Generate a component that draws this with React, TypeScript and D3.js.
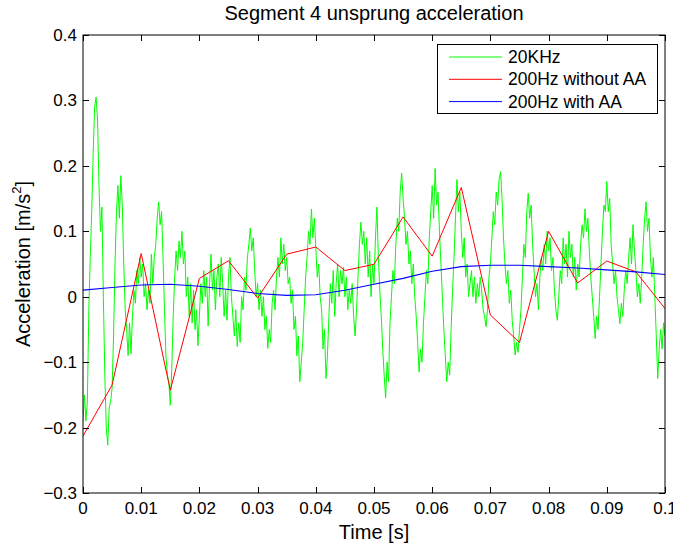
import * as d3 from "d3";
import { useEffect, useRef } from "react";

// time axis for the 200Hz signals (one sample every 5 ms)
const tSlow = [0, 0.005, 0.01, 0.015, 0.02, 0.025, 0.03, 0.035, 0.04, 0.045, 0.05,
  0.055, 0.06, 0.065, 0.07, 0.075, 0.08, 0.085, 0.09, 0.095, 0.1];

const redVals = [-0.213, -0.135, 0.066, -0.143, 0.028, 0.055, -0.002, 0.065, 0.076, 0.04, 0.0495,
  0.122, 0.062, 0.167, -0.028, -0.07, 0.1, 0.021, 0.0545, 0.038, -0.018];

const blueVals = [0.01, 0.014, 0.018, 0.019, 0.016, 0.011, 0.005, 0.002, 0.003, 0.01, 0.019,
  0.028, 0.039, 0.046, 0.048, 0.048, 0.046, 0.044, 0.041, 0.038, 0.034];

// 20KHz trace, every 0.25 ms (one row = 5 ms)
const greenStep = 0.00025;
const greenVals = [
  -0.19, -0.15, -0.19, -0.16, -0.02, 0.06, 0.13, 0.22, 0.29, 0.305, 0.27, 0.17, 0.1, 0.137, 0.0, -0.12, -0.2, -0.227, -0.17, -0.16,
  -0.14, -0.06, 0.05, 0.13, 0.17, 0.12, 0.185, 0.14, 0.05, -0.02, -0.05, -0.09, -0.04, -0.087, -0.03, 0.01, -0.01, 0.04, 0.02, 0.06,
  0.03, 0.05, 0.0, 0.02, -0.02, 0.01, -0.01, 0.065, 0.02, 0.06, 0.08, 0.12, 0.145, 0.11, 0.13, 0.06, -0.02, -0.09, -0.12, -0.13,
  -0.166, -0.11, -0.03, 0.03, 0.07, 0.04, 0.085, 0.06, 0.1, 0.05, 0.07, 0.0, 0.03, -0.03, 0.02, -0.04, 0.01, -0.05, -0.02, -0.075,
  -0.03, 0.02, -0.01, 0.04, 0.0, 0.03, -0.045, 0.02, 0.065, 0.01, 0.04, -0.02, 0.03, 0.05, 0.0, 0.06, 0.02, -0.03, 0.01, -0.036,
  0.03, 0.06, 0.0, -0.03, -0.06, -0.02, -0.076, -0.04, -0.07, 0.0, -0.02, 0.03, 0.01, 0.06, 0.08, 0.105, 0.07, 0.09, 0.04, 0.0,
  0.02, -0.02, 0.01, -0.03, 0.0, -0.05, -0.03, -0.079, -0.05, -0.07, -0.01, 0.01, -0.02, 0.03, 0.06, 0.03, 0.09, 0.05, 0.08, 0.04,
  0.06, 0.02, 0.03, -0.01, 0.01, -0.05, -0.03, -0.09, -0.06, -0.13, -0.1, -0.07, -0.02, 0.03, 0.06, 0.1, 0.08, 0.134, 0.09, 0.12,
  0.075, 0.03, 0.05, 0.0, -0.02, -0.08, -0.05, -0.125, -0.09, -0.03, 0.02, -0.01, 0.04, -0.03, 0.02, 0.05, 0.0, 0.04, 0.02, 0.045,
  0.0, 0.03, -0.02, 0.01, -0.01, 0.02, -0.03, -0.06, -0.02, 0.03, 0.08, 0.114, 0.08, 0.1, 0.05, 0.09, 0.03, 0.07, 0.0, 0.05,
  0.02, 0.09, 0.137, 0.06, 0.01, -0.03, -0.08, -0.12, -0.155, -0.1, -0.13, -0.04, 0.0, 0.04, 0.02, 0.08, 0.12, 0.1, 0.16, 0.189,
  0.15, 0.12, 0.08, 0.1, 0.05, 0.07, 0.02, 0.05, 0.0, -0.03, -0.07, -0.115, -0.08, -0.1, -0.04, 0.0, 0.04, 0.02, 0.09, 0.13,
  0.17, 0.12, 0.196, 0.14, 0.16, 0.1, 0.05, 0.0, -0.05, -0.09, -0.13, -0.1, -0.12, -0.05, 0.01, 0.06, 0.12, 0.179, 0.13, 0.16,
  0.1, 0.06, 0.09, 0.03, 0.05, 0.0, 0.02, 0.04, 0.0, 0.03, -0.01, 0.02, 0.0, 0.03, 0.01, -0.02, -0.03, -0.046, -0.02, 0.03,
  0.05, 0.09, 0.13, 0.11, 0.16, 0.14, 0.18, 0.191, 0.15, 0.09, 0.05, 0.02, 0.04, -0.01, 0.01, -0.036, -0.06, -0.089, -0.07, -0.085,
  -0.05, -0.02, 0.03, 0.08, 0.06, 0.13, 0.158, 0.12, 0.14, 0.08, 0.04, 0.0, 0.02, -0.02, 0.03, 0.06, 0.04, 0.08, 0.05, 0.1,
  0.07, 0.09, 0.04, 0.06, 0.01, -0.02, -0.036, 0.0, 0.04, 0.02, 0.09, 0.05, 0.08, 0.03, 0.1, 0.06, 0.08, 0.03, 0.06, 0.01,
  0.05, 0.03, 0.08, 0.11, 0.09, 0.134, 0.1, 0.12, 0.07, 0.03, 0.0, -0.03, -0.064, -0.03, -0.05, 0.0, 0.05, 0.1, 0.14, 0.13,
  0.176, 0.13, 0.15, 0.08, 0.05, 0.02, 0.04, 0.0, -0.02, -0.041, -0.01, -0.03, 0.01, 0.04, 0.02, 0.06, 0.09, 0.05, 0.11, 0.07,
  0.04, 0.0, 0.02, -0.01, 0.03, 0.08, 0.12, 0.145, 0.1, 0.12, 0.06, 0.03, 0.06, 0.0, -0.06, -0.125, -0.08, -0.05, -0.08, -0.04,
  -0.06,
];

const xTicks = [0, 0.01, 0.02, 0.03, 0.04, 0.05, 0.06, 0.07, 0.08, 0.09, 0.1];
const yTicks = [-0.3, -0.2, -0.1, 0, 0.1, 0.2, 0.3, 0.4];

const seriesNames = ["20KHz", "200Hz without AA", "200Hz with AA"];
const seriesColors = ["#00ff00", "#ff0000", "#0000ff"];

const fmt = (v: number) => (v < 0 ? "\u2212" : "") + String(Math.abs(v));

const App = () => {
  const ref = useRef<SVGSVGElement>(null);

  useEffect(() => {
    const W = 673, H = 546;
    const left = 83, right = 665, top = 35, bottom = 493;
    const font = "'Liberation Sans', Arial, Helvetica, sans-serif";

    const svg = d3.select(ref.current);
    svg.selectAll("*").remove();
    svg.attr("width", W).attr("height", H);
    svg.append("rect").attr("width", W).attr("height", H).attr("fill", "#fff");

    const x = d3.scaleLinear().domain([0, 0.1]).range([left, right]);
    const y = d3.scaleLinear().domain([-0.3, 0.4]).range([bottom, top]);

    svg.append("clipPath").attr("id", "plotclip")
      .append("rect").attr("x", left).attr("y", top)
      .attr("width", right - left).attr("height", bottom - top);

    const line = d3.line<[number, number]>().x((d) => x(d[0])).y((d) => y(d[1]));

    const green: [number, number][] = greenVals.map((v, i) => [i * greenStep, v]);
    const red: [number, number][] = tSlow.map((t, i) => [t, redVals[i]]);
    const blue: [number, number][] = tSlow.map((t, i) => [t, blueVals[i]]);

    const plot = svg.append("g").attr("clip-path", "url(#plotclip)");
    [green, red, blue].forEach((s, i) => {
      plot.append("path").datum(s).attr("d", line)
        .attr("fill", "none").attr("stroke", seriesColors[i])
        .attr("stroke-width", i === 2 ? 1.1 : 1)
        .attr("stroke-linejoin", "round");
    });

    // axes box, MATLAB style with ticks inside on all sides
    const tl = 6;
    const ax = svg.append("g").attr("stroke", "#000").attr("stroke-width", 1);
    ax.append("rect").attr("x", left).attr("y", top)
      .attr("width", right - left).attr("height", bottom - top).attr("fill", "none");
    xTicks.forEach((t) => {
      const px = Math.round(x(t)) + 0.5;
      ax.append("line").attr("x1", px).attr("x2", px).attr("y1", bottom).attr("y2", bottom - tl);
      ax.append("line").attr("x1", px).attr("x2", px).attr("y1", top).attr("y2", top + tl);
    });
    yTicks.forEach((t) => {
      const py = Math.round(y(t)) + 0.5;
      ax.append("line").attr("x1", left).attr("x2", left + tl).attr("y1", py).attr("y2", py);
      ax.append("line").attr("x1", right).attr("x2", right - tl).attr("y1", py).attr("y2", py);
    });

    const txt = svg.append("g").attr("font-family", font).attr("fill", "#000");
    xTicks.forEach((t) => {
      txt.append("text").attr("x", x(t)).attr("y", bottom + 21)
        .attr("text-anchor", "middle").attr("font-size", 17).text(fmt(t));
    });
    yTicks.forEach((t) => {
      txt.append("text").attr("x", left - 6).attr("y", y(t) + 6)
        .attr("text-anchor", "end").attr("font-size", 17).text(fmt(t));
    });

    txt.append("text").attr("x", (left + right) / 2).attr("y", 20)
      .attr("text-anchor", "middle").attr("font-size", 20)
      .text("Segment 4 unsprung acceleration");
    txt.append("text").attr("x", (left + right) / 2).attr("y", 539)
      .attr("text-anchor", "middle").attr("font-size", 20).text("Time [s]");

    const yl = txt.append("text")
      .attr("transform", `translate(30,${(top + bottom) / 2}) rotate(-90)`)
      .attr("text-anchor", "middle").attr("font-size", 20);
    yl.append("tspan").text("Acceleration [m/s");
    yl.append("tspan").attr("font-size", 13).attr("dy", -9).text("2");
    yl.append("tspan").attr("dy", 9).text("]");

    // legend
    const lg = svg.append("g");
    lg.append("rect").attr("x", 437.5).attr("y", 44.5).attr("width", 220).attr("height", 69)
      .attr("fill", "#fff").attr("stroke", "#000").attr("stroke-width", 1);
    seriesNames.forEach((name, i) => {
      const ly = 57 + i * 22.3;
      lg.append("line").attr("x1", 449).attr("x2", 502).attr("y1", ly).attr("y2", ly)
        .attr("stroke", seriesColors[i]).attr("stroke-width", 1);
      lg.append("text").attr("x", 508).attr("y", ly + 6)
        .attr("font-family", font).attr("font-size", 17.5).text(name);
    });
  }, []);

  return (
    <div style={{ position: "absolute", left: 0, top: 0 }}>
      <svg ref={ref} width={673} height={546} />
    </div>
  );
};

export default App;
